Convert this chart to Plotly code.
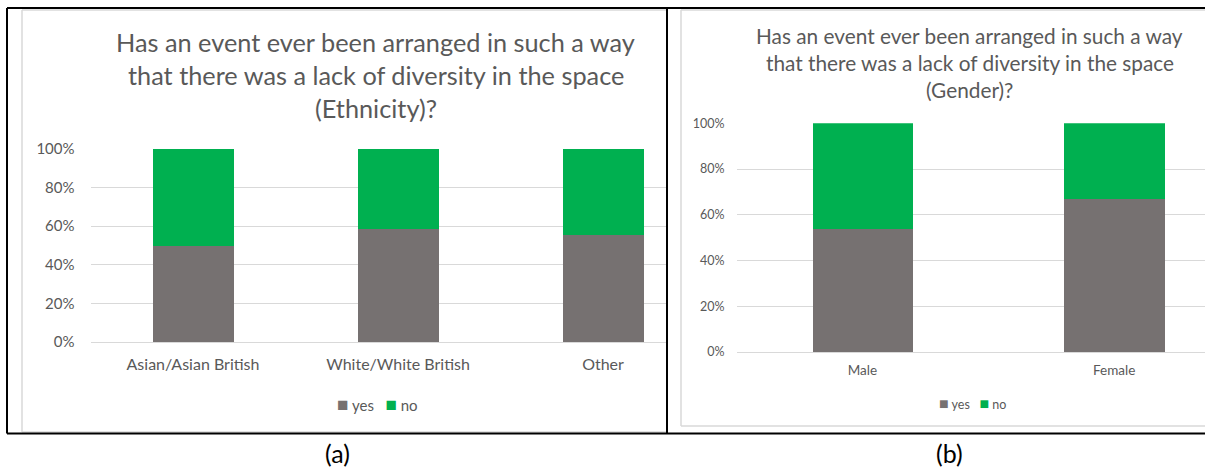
import plotly.graph_objects as go

# ---- data -------------------------------------------------------------
ethnicity = ["Asian/Asian British", "White/White British", "Other"]
eth_yes = [0.500, 0.583, 0.556]
eth_no = [0.500, 0.417, 0.444]

gender = ["Male", "Female"]
gen_yes = [0.535, 0.667]
gen_no = [0.465, 0.333]

series_names = ["yes", "no"]
series_colors = ["#767171", "#00B050"]

title_lines_a = ["Has an event ever been arranged in such a way",
                 "that there was a lack of diversity in the space",
                 "(Ethnicity)?"]
title_lines_b = ["Has an event ever been arranged in such a way",
                 "that there was a lack of diversity in the space",
                 "(Gender)?"]
captions = ["(a)", "(b)"]

# ---- page geometry helpers (pixels -> paper fractions) -----------------
W, H = 1205, 468
FONT = "Lato, Carlito, Calibri, sans-serif"
TXT = "#595959"
GRID = "#D9D9D9"


def px(x):
    return x / W


def py(y):
    return 1 - y / H


fig = go.Figure()

# stacked bars, ethnicity panel
for name, vals, col in zip(series_names, [eth_yes, eth_no], series_colors):
    fig.add_trace(go.Bar(x=ethnicity, y=vals, name=name, marker_color=col,
                         marker_line_width=0, width=0.395,
                         xaxis="x", yaxis="y", showlegend=False))

# stacked bars, gender panel
for name, vals, col in zip(series_names, [gen_yes, gen_no], series_colors):
    fig.add_trace(go.Bar(x=gender, y=vals, name=name, marker_color=col,
                         marker_line_width=0, width=0.4,
                         xaxis="x2", yaxis="y2", showlegend=False))

common_y = dict(range=[0, 1], dtick=0.2, tickformat=".0%", showgrid=True,
                gridcolor=GRID, gridwidth=1, zeroline=False, showline=False,
                ticks="", color=TXT, automargin=False)
common_x = dict(type="category", showgrid=False, zeroline=False, showline=True,
                linecolor=GRID, linewidth=1, ticks="", color=TXT,
                automargin=False)

fig.update_layout(
    template="none",
    width=W, height=H,
    margin=dict(l=0, r=0, t=0, b=0, autoexpand=False),
    paper_bgcolor="white", plot_bgcolor="white",
    barmode="stack", bargap=0,
    font=dict(family=FONT, color=TXT),
    xaxis=dict(common_x, domain=[px(90.5), px(667)], range=[-0.5, 2.312],
               tickfont=dict(size=16), ticklabelstandoff=8, anchor="y"),
    yaxis=dict(common_y, domain=[py(342), py(149)], tickfont=dict(size=15),
               ticklabelstandoff=15, anchor="x"),
    xaxis2=dict(common_x, domain=[px(736.5), px(1205)], range=[-0.5, 1.361],
                tickfont=dict(size=13.5), ticklabelstandoff=6, anchor="y2"),
    yaxis2=dict(common_y, domain=[py(352), py(123.3)], tickfont=dict(size=12.5),
                ticklabelstandoff=11, anchor="x2"),
    showlegend=False,
)

annotations = []

# chart titles, one annotation per line
for lines, cx, ys, size in [(title_lines_a, 375.5, [42, 75, 108], 25.3),
                            (title_lines_b, 969.5, [36, 63, 90], 20.8)]:
    for text, yy in zip(lines, ys):
        annotations.append(dict(text=text, x=px(cx), y=py(yy), xref="paper",
                                yref="paper", xanchor="center", yanchor="middle",
                                showarrow=False, font=dict(size=size, color=TXT)))


def legend_text(square_px):
    parts = []
    for name, col in zip(series_names, series_colors):
        parts.append(f'<span style="color:{col};font-size:{square_px}px">'
                     f'\u25A0</span>&nbsp;{name}')
    return "&nbsp;&nbsp;&nbsp;".join(parts)


for cx, yy, size, sq in [(377, 403, 15, 19), (972, 402, 12.5, 16)]:
    annotations.append(dict(text=legend_text(sq), x=px(cx), y=py(yy),
                            xref="paper", yref="paper", xanchor="center",
                            yanchor="middle", showarrow=False,
                            font=dict(size=size, color=TXT)))

# panel captions
for text, cx in zip(captions, [337, 949.5]):
    annotations.append(dict(text=text, x=px(cx), y=py(452.5), xref="paper",
                            yref="paper", xanchor="center", yanchor="middle",
                            showarrow=False, borderpad=0,
                            font=dict(size=25, color="black")))

fig.update_layout(annotations=annotations)

shapes = []


def line(x0, y0, x1, y1, color, width):
    shapes.append(dict(type="line", xref="paper", yref="paper",
                       x0=px(x0), y0=py(y0), x1=px(x1), y1=py(y1),
                       line=dict(color=color, width=width), layer="above"))


# light chart-area frames
line(22, 10, 22, 432, GRID, 1.5)
line(22, 10, 667, 10, GRID, 1.5)
line(22, 432, 667, 432, GRID, 1.5)
line(681, 10, 681, 426, GRID, 1.5)
line(681, 10, 1205, 10, GRID, 1.5)
line(681, 426, 1205, 426, GRID, 1.5)

# black panel frames
line(7, 8, 1205, 8, "black", 2)
line(7, 433.5, 1205, 433.5, "black", 2)
line(7, 8, 7, 433.5, "black", 2)
line(667, 8, 667, 433.5, "black", 2)

fig.update_layout(shapes=shapes)

fig.write_html("out.html")
